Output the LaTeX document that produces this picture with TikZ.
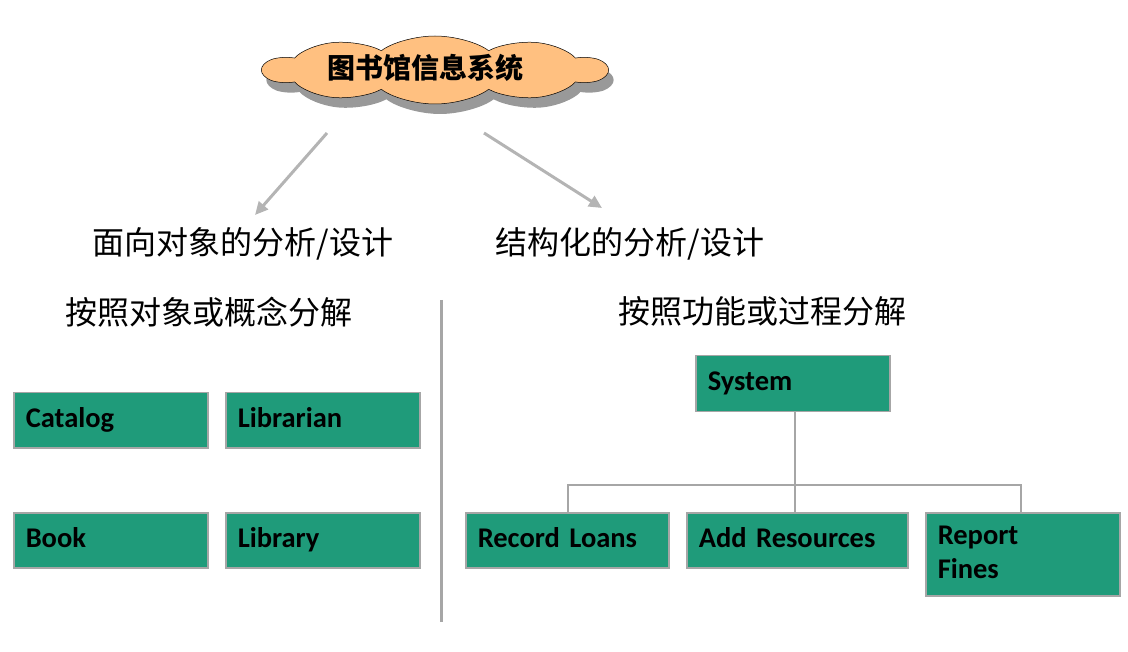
\documentclass[tikz,border=0pt]{standalone}
\usepackage{fontspec}
\usepackage{tikz}
\usetikzlibrary{arrows.meta,shapes.symbols,shadows}
\newfontfamily\cjkfont{Noto Sans CJK SC}
\newfontfamily\boxfont{Carlito}
\definecolor{boxgreen}{HTML}{1F9B7A}
\definecolor{peach}{HTML}{FFC080}
\definecolor{edge}{HTML}{A6A6A6}
\definecolor{arrowgray}{HTML}{B4B4B4}

\tikzset{
  module/.style={draw=edge,line width=1.5pt,fill=boxgreen,anchor=north west,
    inner xsep=12pt,inner ysep=0pt,align=left,minimum height=55pt,
    font=\boxfont\bfseries\fontsize{28.5}{34}\selectfont,
    execute at begin node=\strut},
  heading/.style={font=\cjkfont\fontsize{32}{38}\selectfont},
  link/.style={draw=edge,line width=1.3pt},
  bigarrow/.style={arrowgray,line width=3pt,-{Triangle[length=13pt,width=12pt]}},
}

\begin{document}
\begin{tikzpicture}[x=1pt,y=-1pt]
  \useasboundingbox (0,0) rectangle (1128,652);
  % cloud title
  \begin{scope}[shift={(435,70)},xscale=2]
    \node[cloud,cloud puffs=10,cloud puff arc=115,aspect=2.4,draw,line width=0.5pt,fill=peach,
      minimum width=172pt,minimum height=68pt,inner sep=0pt,transform shape,
      drop shadow={shadow xshift=5pt,shadow yshift=-10pt,fill=black!40,opacity=1}]
      (sys) at (0,0) {};
  \end{scope}
  \node[font=\cjkfont\bfseries\fontsize{28}{32}\selectfont] (title) at (425,68) {图书馆信息系统};
  \coordinate (la) at (327,133);
  \coordinate (lb) at (255,215);
  \coordinate (ra) at (484,133);
  \coordinate (rb) at (602,208);
  \draw[bigarrow] (la) -- (lb);
  \draw[bigarrow] (ra) -- (rb);
  % headings
  \node[heading] (oo) at (243,244) {面向对象的分析/设计};
  \node[heading] (sa) at (630,244) {结构化的分析/设计};
  \node[heading] (ood) at (209,312) {按照对象或概念分解};
  \node[heading] (sad) at (762,311) {按照功能或过程分解};
  \coordinate (st) at (441,300);
  \coordinate (sb) at (441,622);
  \draw[edge,line width=3pt] (st) -- (sb);
  % object side
  \node[module,text width=170pt] (catalog) at (13,392) {Catalog};
  \node[module,text width=170pt] (librarian) at (225,392) {Librarian};
  \node[module,text width=170pt] (book) at (13,512) {Book};
  \node[module,text width=170pt] (library) at (225,512) {Library};
  % function side
  \node[module,text width=170pt,minimum height=56pt] (system) at (695,355) {System};
  \node[module,text width=179pt] (loans) at (465,512) {Record Loans};
  \node[module,text width=197pt] (resources) at (686,512) {Add Resources};
  \node[module,text width=170pt,minimum height=83pt] (fines) at (925,512) {Report\\\strut Fines};
  \coordinate (bus) at (795,485);
  \coordinate (busl) at (568,485);
  \coordinate (busr) at (1021,485);
  \draw[link] (system.south -| bus) -- (bus);
  \draw[link] (loans.north -| busl) -- (busl) -- (busr) -- (fines.north -| busr);
  \draw[link] (bus) -- (resources.north -| bus);
\end{tikzpicture}
\end{document}
